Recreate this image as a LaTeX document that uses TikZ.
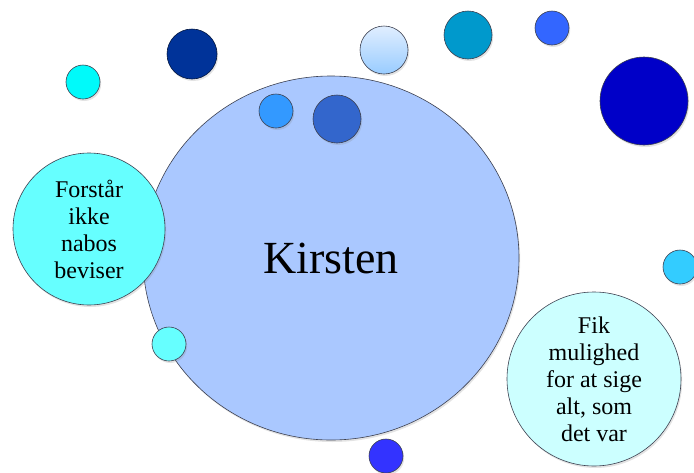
\documentclass[tikz,border=0pt]{standalone}
\usepackage{fontspec}
\setmainfont{Liberation Serif}
\usetikzlibrary{shapes.geometric, shadows}

\definecolor{kirstenblue}{RGB}{170,200,255}
\definecolor{aqua}{RGB}{0,250,250}
\definecolor{navy}{RGB}{0,51,153}
\definecolor{teal}{RGB}{0,153,204}
\definecolor{royal}{RGB}{51,102,255}
\definecolor{deepblue}{RGB}{0,0,200}
\definecolor{skyblue}{RGB}{51,153,255}
\definecolor{midblue}{RGB}{51,102,204}
\definecolor{lightaqua}{RGB}{102,255,255}
\definecolor{paleaqua}{RGB}{204,255,255}
\definecolor{azure}{RGB}{51,204,255}
\definecolor{brightblue}{RGB}{51,51,255}
\definecolor{rimgray}{RGB}{60,64,80}

\begin{document}
\begin{tikzpicture}[
            x=1pt, y=-1pt,
            bubble/.style={draw=rimgray, line width=0.6pt, circle, inner sep=0pt, outer sep=0pt,
                drop shadow={shadow xshift=1.2pt, shadow yshift=-2pt, opacity=0.22}},
            textbubble/.style={bubble, align=center, font=\fontsize{24}{27}\selectfont},
            bigbubble/.style={bubble, ellipse, minimum width=376pt, minimum height=364pt,
                font=\fontsize{46}{50}\selectfont}
        ]

        \useasboundingbox (0,0) rectangle (694,472);

        % Kirsten
        \node[bigbubble, fill=kirstenblue] (kirsten) at (331,258) {Kirsten};

        % Bobler
        \node[bubble, fill=aqua, minimum size=34pt] (b1) at (83,82) {};
        \node[bubble, fill=navy, draw=navy!40!black, minimum size=50pt] (b2) at (192,54) {};
        \node[bubble, top color={rgb,255:red,224;green,238;blue,255}, bottom color={rgb,255:red,153;green,204;blue,255}, minimum size=48pt] (b3) at (384,50) {};
        \node[bubble, fill=teal, minimum size=48pt] (b4) at (468,35) {};
        \node[bubble, fill=royal, minimum size=34pt] (b5) at (552,28) {};
        \node[bubble, fill=deepblue, minimum size=88pt] (b6) at (644,101) {};
        \node[bubble, fill=skyblue, minimum size=34pt] (b7) at (276,111) {};
        \node[bubble, fill=midblue, minimum size=48pt] (b8) at (337,119) {};
        \node[bubble, fill=lightaqua, minimum size=34pt] (b9) at (169,344) {};
        \node[bubble, fill=azure, minimum size=34pt] (b10) at (680,267) {};
        \node[bubble, fill=brightblue, minimum size=34pt] (b11) at (386,456) {};

        % Tekstbobler
        \node[textbubble, fill=lightaqua, minimum size=152pt] (nabo) at (89,229) {Forstår\\ikke\\nabos\\beviser};
        \node[textbubble, fill=paleaqua, minimum size=174pt] (sige) at (594,379) {Fik\\mulighed\\for at sige\\alt, som\\det var};

    \end{tikzpicture}
\end{document}
